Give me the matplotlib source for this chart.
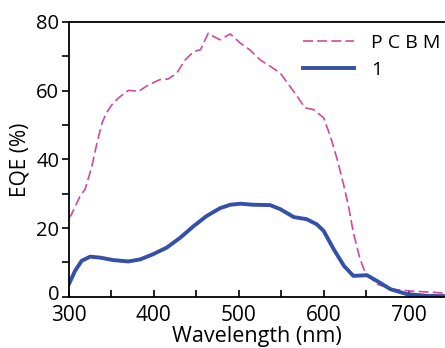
import matplotlib
matplotlib.use("Agg")
import matplotlib.pyplot as plt
from matplotlib.ticker import MultipleLocator
from matplotlib.transforms import ScaledTranslation

plt.rcParams['font.family'] = ['Open Sans', 'DejaVu Sans']

# PCBM device (dashed)
pcbm_wl = [300, 303, 313, 319, 327, 333, 339, 344, 352, 360, 370, 382, 394, 407,
           417, 427, 437, 447, 455, 464, 470, 478, 490, 502, 513, 525, 537, 549,
           559, 569, 578, 588, 600, 608, 616, 624, 630, 635, 643, 649, 663, 682,
           702, 730, 745]
pcbm_eqe = [23.0, 24.0, 29.3, 31.3, 38.0, 44.8, 50.6, 53.5, 56.4, 58.2, 60.1, 59.8,
            61.7, 63.2, 63.4, 65.1, 69.0, 71.4, 71.9, 76.7, 75.8, 74.8, 76.5, 73.8,
            71.9, 69.0, 67.1, 65.1, 61.7, 58.3, 55.0, 54.5, 52.1, 46.7, 40.0, 32.2,
            25.5, 18.7, 10.9, 7.1, 3.7, 2.2, 1.7, 1.3, 1.0]

# compound 1 device (solid)
c1_wl = [300, 307, 315, 325, 337, 352, 370, 384, 399, 415, 431, 447, 462, 478,
         490, 502, 517, 537, 549, 565, 580, 592, 600, 612, 624, 635, 651, 663,
         679, 698, 722, 745]
c1_eqe = [3.7, 7.5, 10.5, 11.7, 11.4, 10.7, 10.3, 10.9, 12.4, 14.3, 17.2, 20.6,
          23.5, 25.8, 26.8, 27.1, 26.8, 26.7, 25.5, 23.2, 22.6, 21.1, 19.2, 13.8,
          9.0, 6.1, 6.3, 4.6, 2.2, 0.8, 0.3, 0.2]

fig = plt.figure(figsize=(4.45, 3.48), dpi=100)
ax = fig.add_axes([0.155, 0.147, 0.845, 0.790])

ax.plot(pcbm_wl, pcbm_eqe, color="#d4489c", linewidth=1.2,
        dashes=(6, 2.5), label="P C B M")
ax.plot(c1_wl, c1_eqe, color="#3550a8", linewidth=2.8, label="1")

ax.set_xlim(300, 743)
ax.set_ylim(0, 80)
ax.xaxis.set_major_locator(MultipleLocator(100))
ax.xaxis.set_minor_locator(MultipleLocator(50))
ax.yaxis.set_major_locator(MultipleLocator(20))
ax.yaxis.set_minor_locator(MultipleLocator(10))

ax.tick_params(axis='x', which='both', direction='in', length=5, width=1.2,
               labelsize=15, pad=6)
ax.tick_params(axis='y', which='both', direction='out', length=5, width=1.2,
               labelsize=14.5, pad=2)
ax.spines['right'].set_visible(False)
for s in ['left', 'bottom', 'top']:
    ax.spines[s].set_linewidth(1.3)

ax.set_xlabel("Wavelength (nm)", fontsize=15.5, labelpad=0)
ax.set_ylabel("EQE (%)", fontsize=15, labelpad=4)

ax.legend(loc='upper right', frameon=False, fontsize=14, handlelength=2.6,
          handletextpad=0.9, labelspacing=0.45, bbox_to_anchor=(1.035, 1.02))

# nudge the "0" label up a little so it clears the "300" label
fig.canvas.draw()
for tick in ax.yaxis.get_major_ticks():
    if abs(tick.get_loc()) < 1e-9:
        lab = tick.label1
        lab.set_transform(lab.get_transform() + ScaledTranslation(0, 3 / 72, fig.dpi_scale_trans))

fig.savefig("out.png", dpi=100)
